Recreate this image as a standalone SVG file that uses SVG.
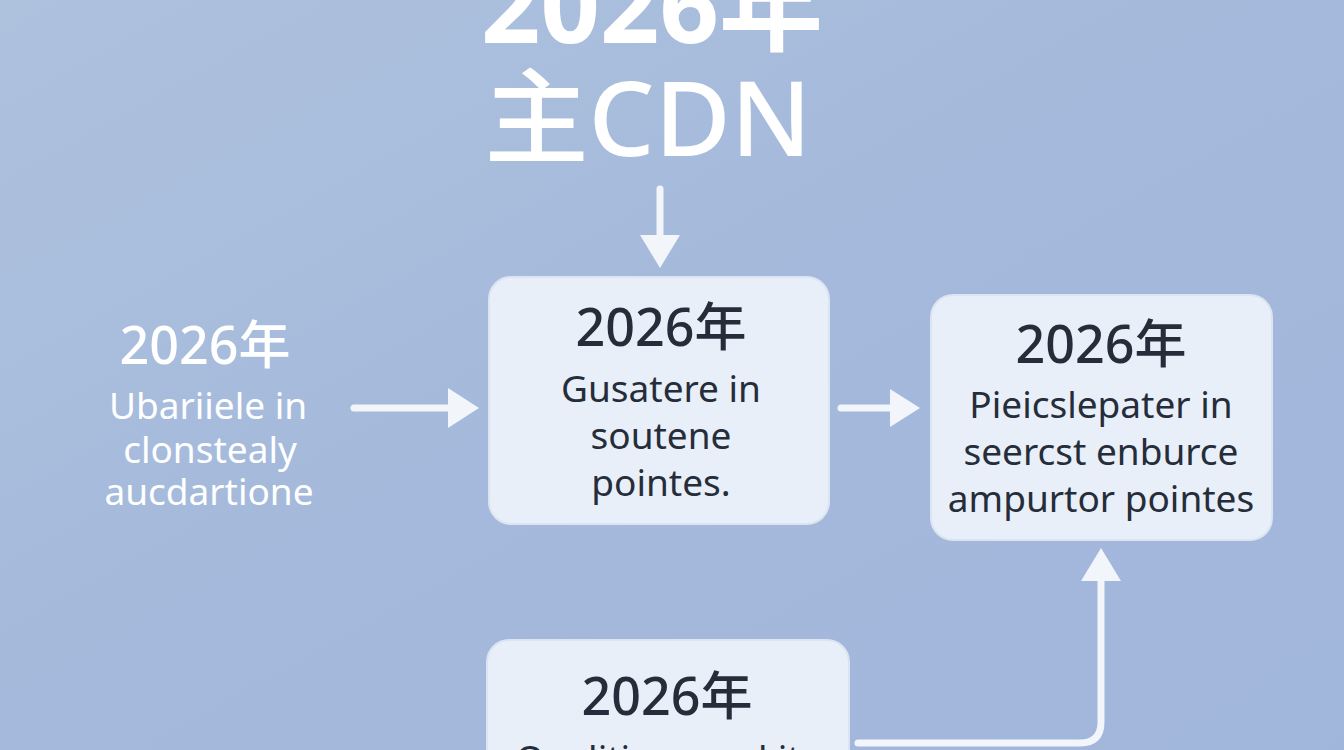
<svg xmlns="http://www.w3.org/2000/svg" width="1344" height="750" viewBox="0 0 1344 750">
<defs>
<linearGradient id="bg" x1="0" y1="0" x2="1" y2="1">
<stop offset="0" stop-color="#aec2de"/>
<stop offset="0.5" stop-color="#a4b9db"/>
<stop offset="1" stop-color="#a1b6db"/>
</linearGradient>
<style>
.t{font-family:"Noto Sans","Noto Sans CJK SC",sans-serif;text-anchor:middle}
.w{fill:#ffffff}
.d{fill:#262d3a}
.h{font-size:52px;font-weight:500}
.b{font-size:37px}
.box{fill:#e9eff8;stroke:#dbe4f2;stroke-width:2}
.ln{stroke:#f2f5fa;stroke-width:7;fill:none;stroke-linecap:round}
.hd{fill:#f2f5fa}
</style>
</defs>
<rect width="1344" height="750" fill="url(#bg)"/>
<g id="title">
<text class="t w" x="652" y="43" font-size="104" font-weight="700">2026年</text>
<text class="t w" x="648" y="156" font-size="104" font-weight="500">主CDN</text>
</g>
<g id="connectors">
<line class="ln" x1="660" y1="189" x2="660" y2="238"/>
<polygon class="hd" points="640,235 680,235 660,268"/>
<line class="ln" x1="354" y1="408" x2="450" y2="408"/>
<polygon class="hd" points="448,388 448,428 479,408"/>
<line class="ln" x1="841" y1="408" x2="892" y2="408"/>
<polygon class="hd" points="890,389 890,427 920,408"/>
<path class="ln" d="M858,743 H1080 Q1101,743 1101,722 V580"/>
<polygon class="hd" points="1081,581 1121,581 1101,548"/>
</g>
<g id="left">
<text class="t w h" x="205" y="364">2026年</text>
<text class="t w b" x="208" y="419">Ubariiele in</text>
<text class="t w b" x="210" y="463">clonstealy</text>
<text class="t w b" x="209" y="505">aucdartione</text>
</g>
<g id="box1">
<rect class="box" x="489" y="277" width="340" height="247" rx="22"/>
<text class="t d h" x="661" y="346">2026年</text>
<text class="t d b" x="661" y="402">Gusatere in</text>
<text class="t d b" x="661" y="449">soutene</text>
<text class="t d b" x="661" y="496">pointes.</text>
</g>
<g id="box2">
<rect class="box" x="931" y="295" width="341" height="245" rx="22"/>
<text class="t d h" x="1101" y="363">2026年</text>
<text class="t d b" x="1101" y="418">Pieicslepater in</text>
<text class="t d b" x="1101" y="465">seercst enburce</text>
<text class="t d b" x="1101" y="512">ampurtor pointes</text>
</g>
<g id="box3">
<rect class="box" x="487" y="640" width="362" height="140" rx="22"/>
<text class="t d h" x="667" y="715">2026年</text>
<text class="t d b" x="667" y="772">Qualitions makits</text>
</g>
</svg>
